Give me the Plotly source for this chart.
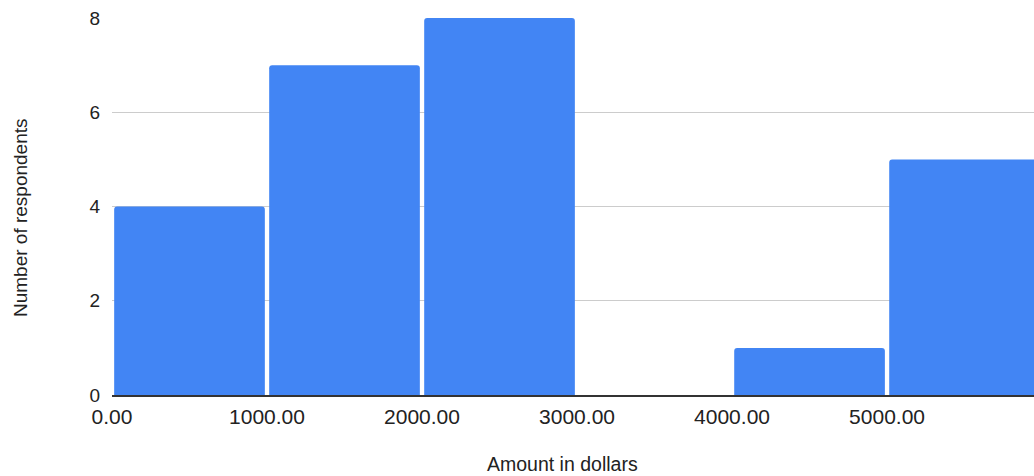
import plotly.graph_objects as go

bin_starts = [0, 1000, 2000, 3000, 4000, 5000]
bin_size = 1000
counts = [4, 7, 8, 0, 1, 5]
x_ticks = [0, 1000, 2000, 3000, 4000, 5000]
y_ticks = [0, 2, 4, 6, 8]

centers = [s + bin_size / 2 for s in bin_starts]

fig = go.Figure(go.Bar(
    x=centers, y=counts,
    marker=dict(color="#4285F4", line=dict(width=0)),
    hoverinfo="x+y",
))

font = "Liberation Sans, Arial, sans-serif"
fig.update_layout(
    width=1034, height=476,
    margin=dict(l=112, r=0, t=18, b=81),
    paper_bgcolor="white", plot_bgcolor="white",
    bargap=0.028,
    barcornerradius=3,
    showlegend=False,
    font=dict(family=font, color="#222222"),
    annotations=[
        dict(
            text="Number of respondents", textangle=-90,
            xref="paper", yref="paper", x=-0.0998, y=0.472,
            xanchor="center", yanchor="middle", showarrow=False,
            font=dict(size=19, color="#222222"),
        ),
        dict(
            text="Amount in dollars",
            xref="paper", yref="paper", x=0.489, y=-0.183,
            xanchor="center", yanchor="middle", showarrow=False,
            font=dict(size=19.5, color="#222222"),
        ),
    ],
)
fig.update_xaxes(
    range=[0, 5948],
    tickvals=x_ticks, tickformat=".2f",
    tickfont=dict(size=21, color="#222222"),
    showgrid=False, zeroline=False,
    showline=True, linecolor="#333333", linewidth=1.5,
    ticks="", ticklabelstandoff=2,
)
fig.update_yaxes(
    range=[0, 8],
    tickvals=y_ticks,
    tickfont=dict(size=19, color="#222222"),
    showgrid=True, gridcolor="#cccccc", gridwidth=1,
    zeroline=False, showline=False,
    ticks="", ticklabelstandoff=11,
)
fig.write_html("out.html")
